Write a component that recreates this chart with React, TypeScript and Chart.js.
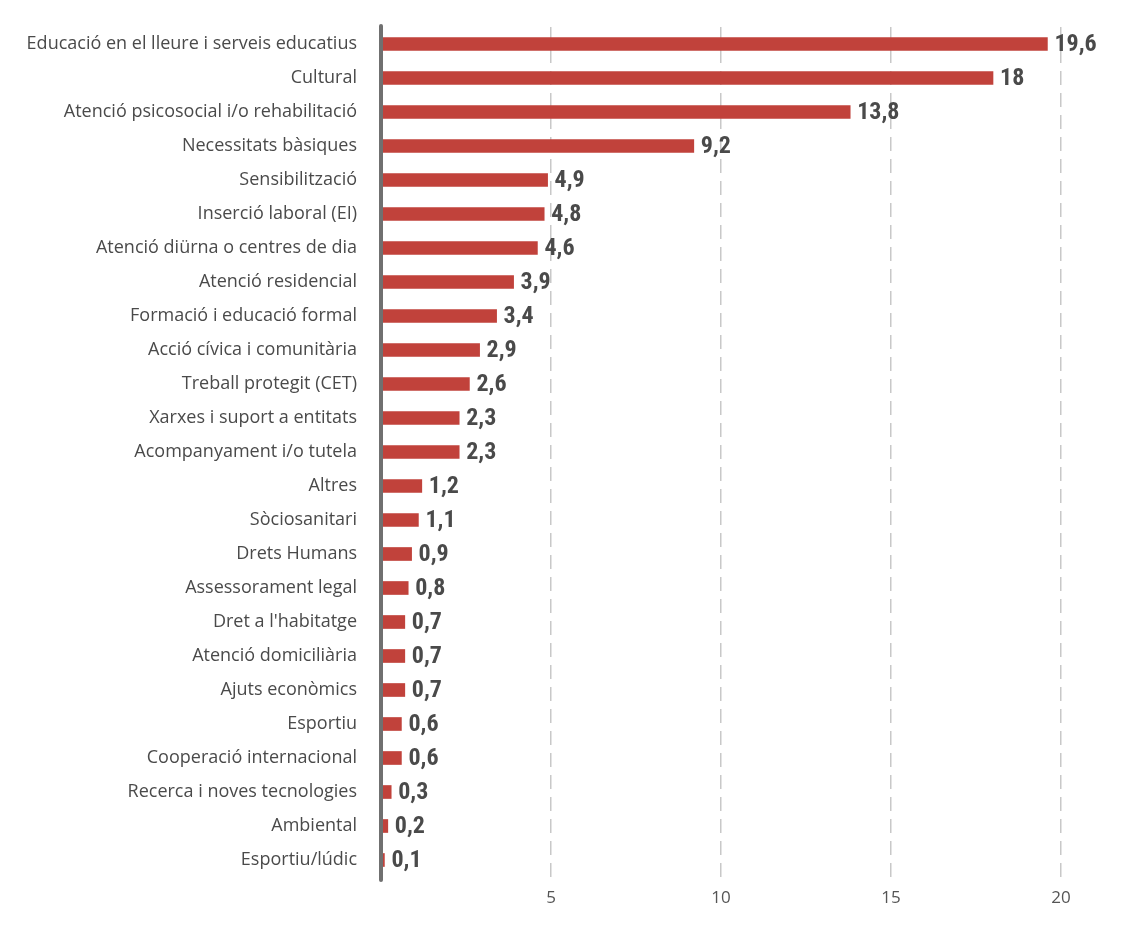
import React, { useEffect, useRef } from "react";
import { Chart, registerables } from "chart.js";

Chart.register(...registerables);

const categories = [
  "Educació en el lleure i serveis educatius",
  "Cultural",
  "Atenció psicosocial i/o rehabilitació",
  "Necessitats bàsiques",
  "Sensibilització",
  "Inserció laboral (EI)",
  "Atenció diürna o centres de dia",
  "Atenció residencial",
  "Formació i educació formal",
  "Acció cívica i comunitària",
  "Treball protegit (CET)",
  "Xarxes i suport a entitats",
  "Acompanyament i/o tutela",
  "Altres",
  "Sòciosanitari",
  "Drets Humans",
  "Assessorament legal",
  "Dret a l'habitatge",
  "Atenció domiciliària",
  "Ajuts econòmics",
  "Esportiu",
  "Cooperació internacional",
  "Recerca i noves tecnologies",
  "Ambiental",
  "Esportiu/lúdic",
];

const values = [
  19.6, 18, 13.8, 9.2, 4.9, 4.8, 4.6, 3.9, 3.4, 2.9, 2.6, 2.3, 2.3, 1.2, 1.1,
  0.9, 0.8, 0.7, 0.7, 0.7, 0.6, 0.6, 0.3, 0.2, 0.1,
];

const xTicks = [5, 10, 15, 20];

const BAR_COLOR = "#c1423b";
const LABEL_FONT = "'Open Sans', 'Noto Sans', sans-serif";
const VALUE_FONT = "'Liberation Sans Narrow', 'Roboto Condensed', 'DejaVu Sans Condensed', Roboto, sans-serif";

const valueLabelPlugin = {
  id: "valueLabels",
  afterDatasetsDraw(chart: any) {
    const ctx = chart.ctx;
    const meta = chart.getDatasetMeta(0);
    ctx.save();
    ctx.font = `bold 24px ${VALUE_FONT}`;
    ctx.fillStyle = "#4a4a4a";
    ctx.textAlign = "left";
    ctx.textBaseline = "middle";
    meta.data.forEach((bar: any, i: number) => {
      const txt = String(values[i]).replace(".", ",");
      ctx.fillText(txt, bar.x + 7, bar.y + 1);
    });
    ctx.restore();
  },
};

const axisLinePlugin = {
  id: "axisLine",
  afterDraw(chart: any) {
    const ctx = chart.ctx;
    const { left, top, bottom } = chart.chartArea;
    ctx.save();
    ctx.strokeStyle = "#707070";
    ctx.lineWidth = 4;
    ctx.lineCap = "round";
    ctx.beginPath();
    ctx.moveTo(left, top - 1);
    ctx.lineTo(left, bottom + 3);
    ctx.stroke();
    ctx.restore();
  },
};

export default function App() {
  const ref = useRef<HTMLCanvasElement | null>(null);

  useEffect(() => {
    if (!ref.current) return;
    const chart = new Chart(ref.current, {
      type: "bar",
      data: {
        labels: categories,
        datasets: [
          {
            data: values,
            backgroundColor: BAR_COLOR,
            barThickness: 13,
            borderWidth: 0,
          },
        ],
      },
      options: {
        indexAxis: "y",
        animation: false,
        responsive: false,
        maintainAspectRatio: false,
        layout: { padding: { top: 27, right: 75, left: 0, bottom: 0 } },
        plugins: {
          legend: { display: false },
          tooltip: { enabled: false },
        },
        scales: {
          x: {
            type: "linear",
            min: 0,
            max: 20,
            afterBuildTicks(scale: any) {
              scale.ticks = [0, ...xTicks].map((v) => ({ value: v }));
            },
            afterFit(scale: any) {
              scale.height = 66;
              scale.paddingLeft = 0;
              scale.paddingRight = 0;
            },
            border: { display: false, dash: [14, 8] },
            grid: {
              drawTicks: false,
              color: (c: any) => (c.tick && c.tick.value === 0 ? "rgba(0,0,0,0)" : "#c8c8c8"),
              lineWidth: 1.5,
            },
            ticks: {
              padding: 11,
              color: "#555555",
              font: { family: LABEL_FONT, size: 17 },
              callback: (v: any) => (v === 0 ? "" : String(v)),
            },
          },
          y: {
            afterFit(scale: any) {
              scale.width = 381;
              scale.paddingTop = 0;
              scale.paddingBottom = 0;
            },
            border: { display: false },
            grid: { display: false, drawTicks: false },
            ticks: {
              padding: 24,
              color: "#4a4a4a",
              font: { family: LABEL_FONT, size: 18 },
              autoSkip: false,
            },
          },
        },
      },
      plugins: [valueLabelPlugin, axisLinePlugin],
    });
    return () => chart.destroy();
  }, []);

  return (
    <div style={{ position: "fixed", left: 0, top: 0, width: 1136, height: 943, background: "#fff" }}>
      <canvas ref={ref} width={1136} height={943} style={{ width: 1136, height: 943 }} />
    </div>
  );
}
